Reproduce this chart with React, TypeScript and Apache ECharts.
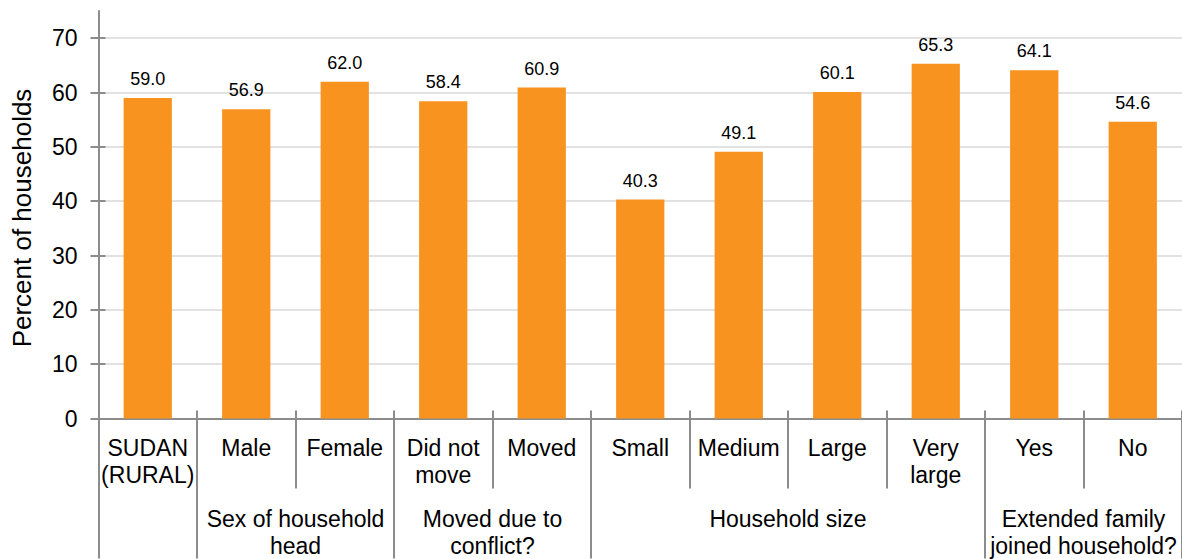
import React, { useEffect, useRef } from 'react';
import * as echarts from 'echarts';

// Share of households, by household characteristic
const categories = [
  'SUDAN\n(RURAL)',
  'Male',
  'Female',
  'Did not\nmove',
  'Moved',
  'Small',
  'Medium',
  'Large',
  'Very\nlarge',
  'Yes',
  'No',
];
const values = [59.0, 56.9, 62.0, 58.4, 60.9, 40.3, 49.1, 60.1, 65.3, 64.1, 54.6];

// Second-level grouping of the categories (positions in category units)
const groupLabels = [
  'Sex of household\nhead',
  'Moved due to\nconflict?',
  'Household size',
  'Extended family\njoined household?',
];
const groupCentres = [2, 4, 7, 10];
const groupBounds = [0, 1, 3, 5, 9, 11];

const yTicks = [0, 10, 20, 30, 40, 50, 60, 70];
const yTitle = 'Percent of households';

const FONT = '"Liberation Sans", Arial, Helvetica, sans-serif';
const AXIS_COLOR = '#8c8c8c';
const GRID_COLOR = '#d9d9d9';
const BAR_COLOR = '#F7931E';

export default function App() {
  const ref = useRef<HTMLDivElement>(null);

  useEffect(() => {
    if (!ref.current) return;
    const chart = echarts.init(ref.current, null, { renderer: 'svg' });
    const axisLine = { color: AXIS_COLOR, width: 2 };

    chart.setOption({
      animation: false,
      backgroundColor: '#ffffff',
      textStyle: { fontFamily: FONT },
      grid: { left: 98.5, right: -1, top: 11, bottom: 135.5, containLabel: false },
      xAxis: [
        {
          type: 'category',
          data: categories,
          position: 'bottom',
          axisLine: { show: true, lineStyle: axisLine },
          axisTick: { show: true, interval: 0, length: 70, lineStyle: axisLine },
          axisLabel: {
            interval: 0,
            margin: 16,
            fontSize: 23,
            lineHeight: 27,
            color: '#000',
            fontFamily: FONT,
          },
          splitLine: { show: false },
        },
        {
          type: 'category',
          data: categories,
          position: 'bottom',
          axisLine: { show: false },
          axisTick: { show: true, inside: true, interval: 0, length: 8, lineStyle: axisLine },
          axisLabel: { show: false },
          splitLine: { show: false },
        },
        {
          type: 'value',
          min: 0,
          max: 11,
          interval: 1,
          position: 'bottom',
          axisLine: { show: false },
          axisTick: { show: true, customValues: groupBounds, length: 140, lineStyle: axisLine },
          axisLabel: {
            customValues: groupCentres,
            formatter: (v: number) => {
              const i = groupCentres.indexOf(v);
              return i >= 0 ? groupLabels[i] : '';
            },
            margin: 86.5,
            fontSize: 23,
            lineHeight: 27,
            color: '#000',
            fontFamily: FONT,
          },
          splitLine: { show: false },
        },
      ],
      yAxis: [
        {
          type: 'value',
          min: 0,
          max: 75,
          position: 'left',
          axisLine: { show: true, lineStyle: axisLine },
          axisTick: { show: true, customValues: yTicks, length: 8, lineStyle: axisLine },
          axisLabel: {
            customValues: yTicks,
            margin: 21,
            fontSize: 23,
            color: '#000',
            fontFamily: FONT,
          },
          splitLine: { show: true, lineStyle: { color: GRID_COLOR, width: 1.5 } },
        },
        {
          type: 'value',
          min: 0,
          max: 75,
          position: 'left',
          axisLine: { show: false },
          axisTick: { show: true, inside: true, customValues: yTicks, length: 7, lineStyle: axisLine },
          axisLabel: { show: false },
          splitLine: { show: false },
        },
      ],
      series: [
        {
          type: 'bar',
          data: values,
          xAxisIndex: 0,
          yAxisIndex: 0,
          barWidth: '49%',
          itemStyle: { color: BAR_COLOR },
          label: {
            show: true,
            position: 'top',
            distance: 10,
            formatter: (p: any) => Number(p.value).toFixed(1),
            fontSize: 18,
            color: '#000',
            fontFamily: FONT,
          },
        },
      ],
      graphic: [
        {
          type: 'text',
          x: 22,
          y: 218,
          rotation: Math.PI / 2,
          style: {
            text: yTitle,
            fontSize: 26,
            fontFamily: FONT,
            fill: '#000',
            textAlign: 'center',
            textVerticalAlign: 'middle',
          },
        },
      ],
    });

    return () => chart.dispose();
  }, []);

  return (
    <div
      ref={ref}
      style={{ position: 'fixed', left: 0, top: 0, width: 1182, height: 559, background: '#fff' }}
    />
  );
}
